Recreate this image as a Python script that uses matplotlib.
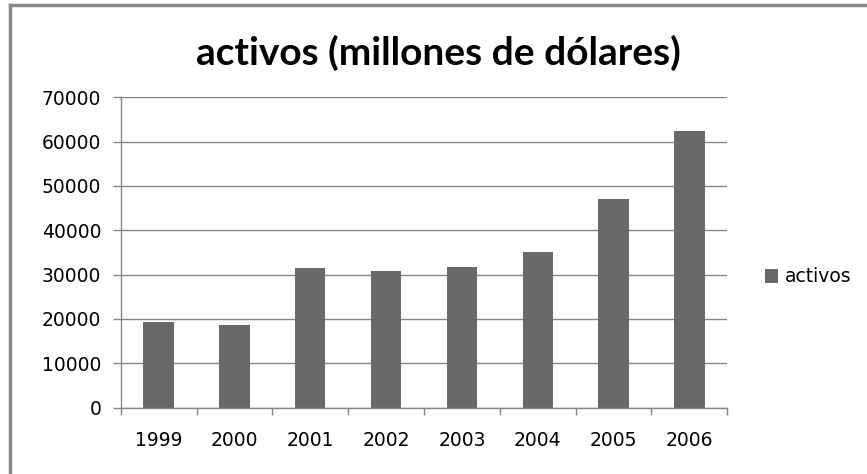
# activos.py
# Bar chart of yearly assets (millions of dollars), 1999-2006

import matplotlib.pyplot as plt
from matplotlib.lines import Line2D

years = ['1999', '2000', '2001', '2002', '2003', '2004', '2005', '2006']
activos = [19400, 18600, 31500, 30800, 31700, 35000, 47000, 62400]
y_ticks = [0, 10000, 20000, 30000, 40000, 50000, 60000, 70000]

bar_color = '#686868'
line_color = '#878787'

fig = plt.figure(figsize=(8.67, 4.74), dpi=100)
ax = fig.add_axes([0.1392, 0.1399, 0.6997, 0.6549])

x = range(len(years))
ax.bar(x, activos, width=0.4, color=bar_color, label='activos', zorder=2)

ax.set_xlim(-0.5, len(years) - 0.5)
ax.set_ylim(y_ticks[0], y_ticks[-1])
ax.set_yticks(y_ticks)
ax.set_xticks(list(x))
ax.set_xticklabels(years)

# tick marks sit between the categories, labels in the middle
ax.set_xticks([i - 0.5 for i in range(len(years) + 1)], minor=True)
ax.tick_params(axis='x', which='major', length=0, pad=17, labelsize=13.5, colors='#000000')
ax.tick_params(axis='x', which='minor', length=5, width=1, color=line_color)
ax.tick_params(axis='y', length=6, width=1, color=line_color, pad=8, labelsize=13.5)

ax.yaxis.grid(True, color=line_color, linewidth=1, zorder=0)
ax.set_axisbelow(True)
for side in ['top', 'right']:
    ax.spines[side].set_visible(False)
for side in ['left', 'bottom']:
    ax.spines[side].set_color(line_color)
    ax.spines[side].set_linewidth(1)

fig.text(438 / 867, 1 - 65 / 474, 'activos (millones de dólares)',
         ha='center', va='baseline', fontsize=28, fontweight='bold', family='Lato')

ax.legend(loc='center left', bbox_to_anchor=(765 / 867, 1 - 277 / 474),
          bbox_transform=fig.transFigure, frameon=False, fontsize=13.5,
          borderpad=0, borderaxespad=0,
          handlelength=0.7, handleheight=0.7, handletextpad=0.35)

# chart frame (left and top edges)
fig.add_artist(Line2D([10 / 867, 10 / 867], [0, 1 - 5 / 474], color='#888888', lw=2.5,
                      transform=fig.transFigure))
fig.add_artist(Line2D([10 / 867, 1], [1 - 5 / 474, 1 - 5 / 474], color='#888888', lw=2.5,
                      transform=fig.transFigure))

plt.savefig('out.png', dpi=100)
